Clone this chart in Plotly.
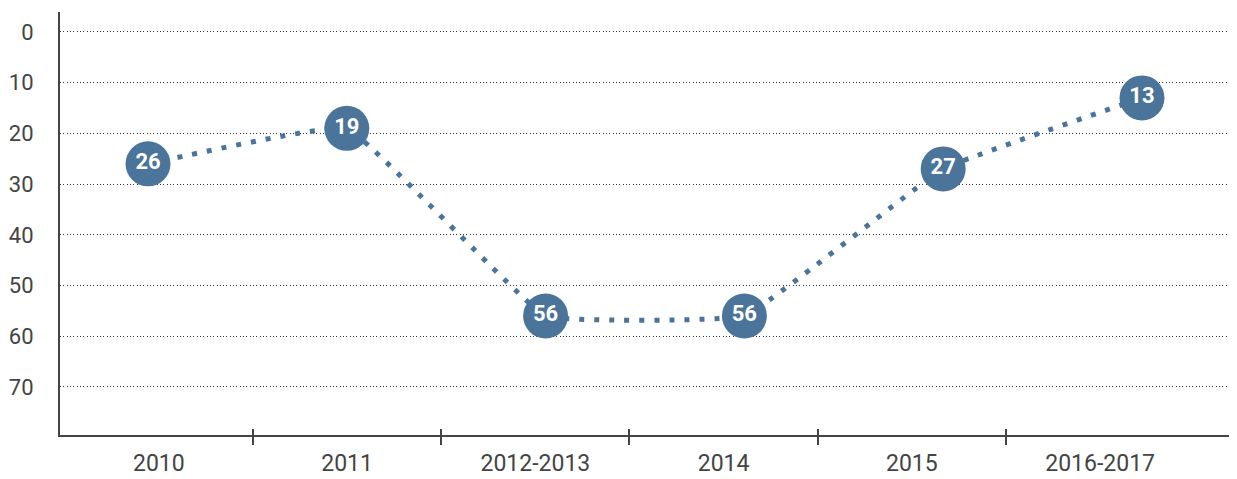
import plotly.graph_objects as go

categories = ["2010", "2011", "2012-2013", "2014", "2015", "2016-2017"]
ranks = [26, 19, 56, 56, 27, 13]
y_ticks = [0, 10, 20, 30, 40, 50, 60, 70]

BLUE = "#4a7499"
INK = "#444444"
FONT = "Roboto, 'Noto Sans', sans-serif"

idx = list(range(len(categories)))

fig = go.Figure()
# empty traces so the label axis and the tick axis get drawn
fig.add_trace(go.Scatter(x=[], y=[], xaxis="x", hoverinfo="skip"))
fig.add_trace(go.Scatter(x=[], y=[], xaxis="x3", hoverinfo="skip"))
fig.add_trace(
    go.Scatter(
        x=idx,
        y=ranks,
        xaxis="x2",
        mode="lines+markers+text",
        line=dict(color=BLUE, width=5, dash="5px,10px", shape="spline", smoothing=0.25),
        marker=dict(color=BLUE, size=45),
        text=[str(v) for v in ranks],
        textposition="middle center",
        textfont=dict(color="white", size=22, family=FONT, weight="bold"),
        hoverinfo="skip",
    )
)

# the page body has an 8px margin, so the figure is shifted/shrunk by that much
fig.update_layout(
    width=1229,
    height=471,
    margin=dict(l=52, r=0, t=4, b=44),
    showlegend=False,
    plot_bgcolor="white",
    paper_bgcolor="white",
    font=dict(family=FONT, size=22, color=INK),
    xaxis=dict(
        range=[-0.525, 5.727],
        tickvals=idx,
        ticktext=categories,
        ticks="",
        showgrid=False,
        zeroline=False,
        showline=True,
        linecolor=INK,
        linewidth=2,
        tickfont=dict(size=23, color=INK),
        ticklabelstandoff=6,
        automargin=False,
    ),
    xaxis2=dict(
        overlaying="x",
        range=[-0.4427, 5.478],
        visible=False,
    ),
    xaxis3=dict(
        overlaying="x",
        anchor="free",
        position=7 / 423,
        range=[-0.525, 5.727],
        tickvals=[i + 0.5 for i in idx[:-1]],
        ticks="outside",
        ticklen=16,
        tickwidth=2,
        tickcolor=INK,
        showticklabels=False,
        showgrid=False,
        zeroline=False,
        showline=False,
        automargin=False,
    ),
    yaxis=dict(
        range=[79.47, -3.94],
        tickvals=y_ticks,
        ticks="",
        showgrid=True,
        gridcolor="#333333",
        gridwidth=1,
        griddash="1px,2.33px",
        zeroline=False,
        showline=True,
        linecolor=INK,
        linewidth=2,
        tickfont=dict(size=22, color=INK),
        ticklabelstandoff=20,
        automargin=False,
    ),
)

fig.write_html("out.html", config={"responsive": False})
